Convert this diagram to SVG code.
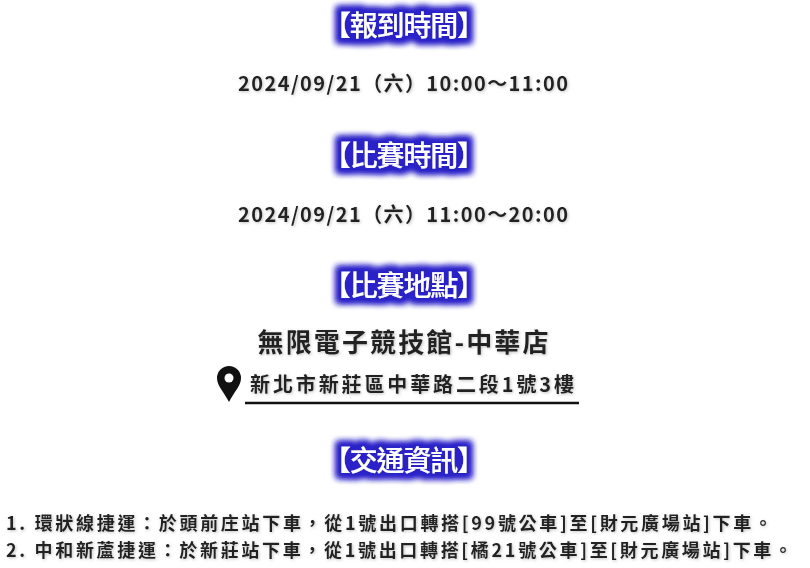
<svg xmlns="http://www.w3.org/2000/svg" width="810" height="568" viewBox="0 0 810 568">
<defs>
<filter id="glow" x="-20%" y="-50%" width="140%" height="200%">
<feMorphology in="SourceAlpha" operator="dilate" radius="5" result="d"/>
<feGaussianBlur in="d" stdDeviation="3" result="b"/>
<feFlood flood-color="#2a22c8"/>
<feComposite in2="b" operator="in" result="g"/>
<feMerge><feMergeNode in="g"/><feMergeNode in="g"/><feMergeNode in="SourceGraphic"/></feMerge>
</filter>
<filter id="sh" x="-10%" y="-50%" width="120%" height="200%">
<feGaussianBlur in="SourceAlpha" stdDeviation="1.5" result="b"/>
<feFlood flood-color="#999" flood-opacity="0.6"/>
<feComposite in2="b" operator="in" result="g"/>
<feOffset dx="1" dy="1" result="o"/>
<feMerge><feMergeNode in="o"/><feMergeNode in="SourceGraphic"/></feMerge>
</filter>
</defs>
<style>
text{font-family:"Noto Sans CJK TC","Noto Sans",sans-serif;}
.h{font-size:28px;fill:#fff;text-anchor:middle;filter:url(#glow);font-weight:500;}
.t{font-size:20px;fill:#222;text-anchor:middle;font-weight:bold;filter:url(#sh);}
.big{font-size:26px;}
.s{font-size:18px;fill:#222;font-weight:bold;filter:url(#sh);}
</style>
<rect width="810" height="568" fill="#fff"/>
<g id="h1"><text class="h" x="404" y="36" textLength="162" lengthAdjust="spacing">【報到時間】</text></g>
<g id="t1"><text class="t" x="403" y="91" textLength="330" lengthAdjust="spacing">2024/09/21（六）10:00～11:00</text></g>
<g id="h2"><text class="h" x="404" y="166" textLength="162" lengthAdjust="spacing">【比賽時間】</text></g>
<g id="t2"><text class="t" x="403" y="222" textLength="330" lengthAdjust="spacing">2024/09/21（六）11:00～20:00</text></g>
<g id="h3"><text class="h" x="404" y="296" textLength="162" lengthAdjust="spacing">【比賽地點】</text></g>
<g id="t3"><text class="t big" x="403" y="352" textLength="291" lengthAdjust="spacing">無限電子競技館-中華店</text></g>
<g id="addr">
<path d="M229,402 C224,392 217,386 217,378 A12,12 0 0 1 241,378 C241,386 234,392 229,402 Z" fill="#111"/>
<circle cx="229" cy="378" r="4.5" fill="#fff"/>
<text class="t" x="412" y="392" textLength="324" lengthAdjust="spacing">新北市新莊區中華路二段1號3樓</text>
<line x1="245" y1="403" x2="579" y2="403" stroke="#111" stroke-width="2.5"/>
</g>
<g id="h4"><text class="h" x="404" y="471" textLength="162" lengthAdjust="spacing">【交通資訊】</text></g>
<g id="info">
<text class="s" x="6" y="530" textLength="766" lengthAdjust="spacing">1. 環狀線捷運：於頭前庄站下車，從1號出口轉搭[99號公車]至[財元廣場站]下車。</text>
<text class="s" x="6" y="557" textLength="786" lengthAdjust="spacing">2. 中和新蘆捷運：於新莊站下車，從1號出口轉搭[橘21號公車]至[財元廣場站]下車。</text>
</g>
</svg>
